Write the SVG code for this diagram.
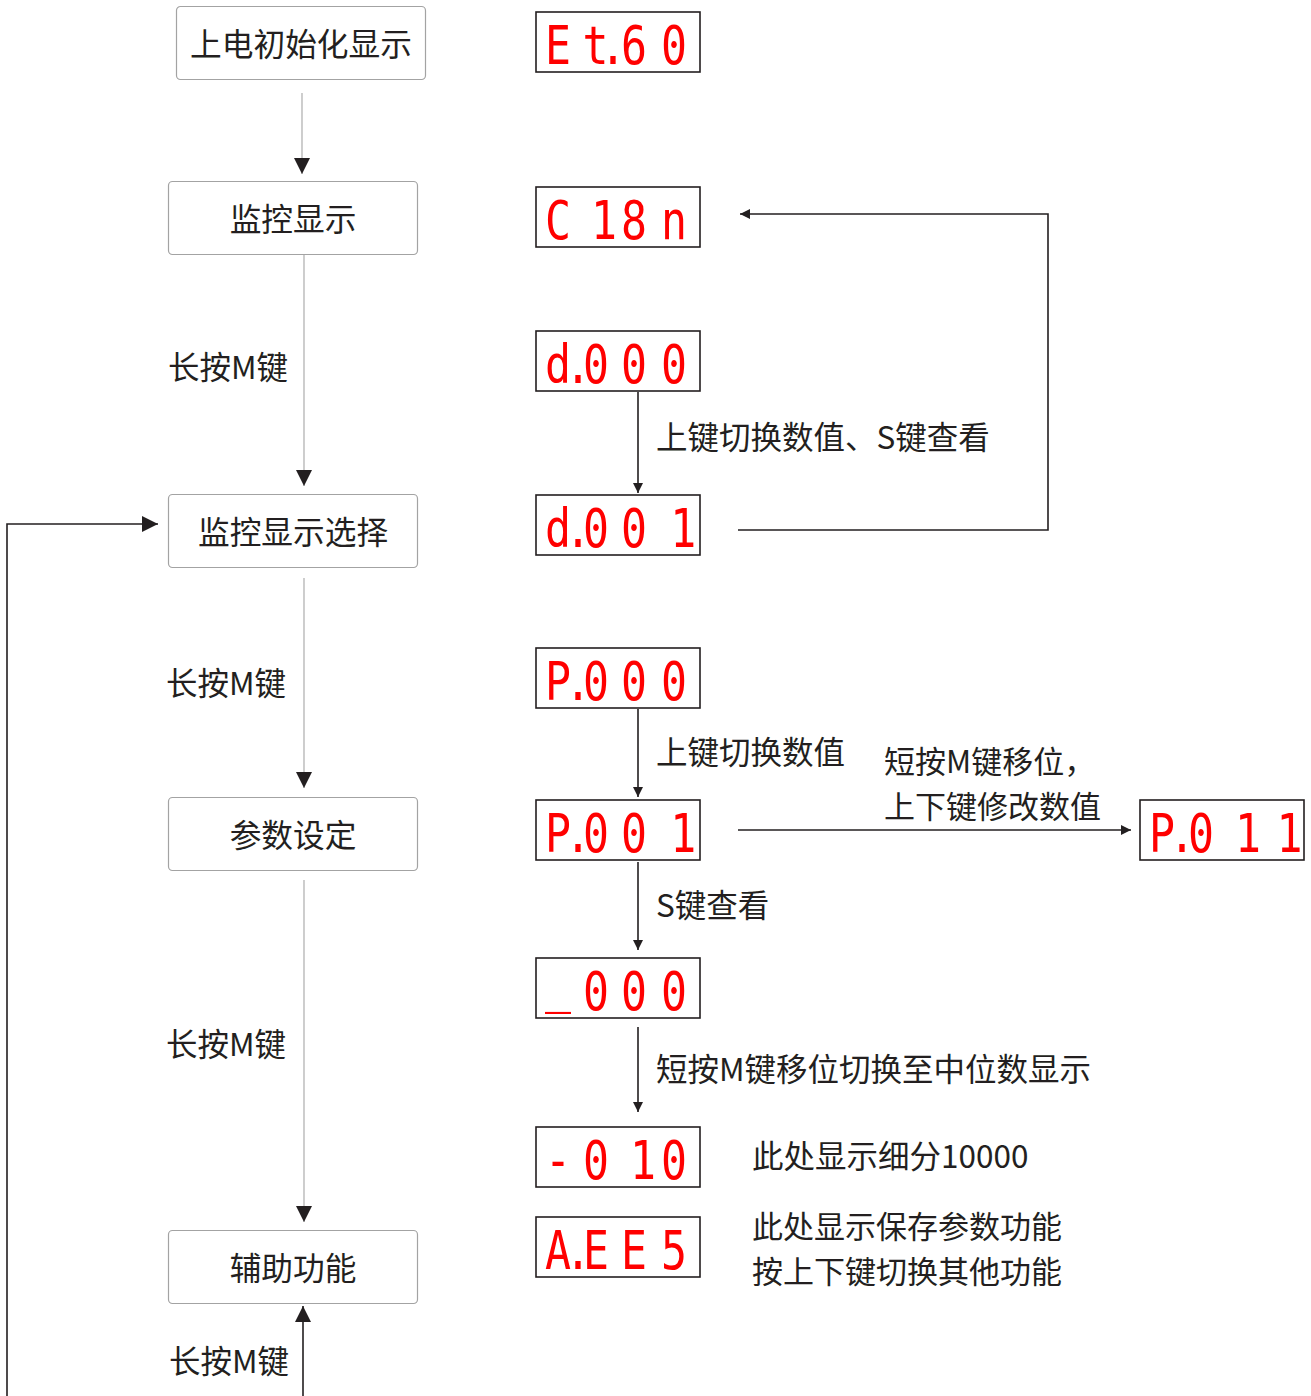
<svg xmlns="http://www.w3.org/2000/svg" width="1311" height="1396" viewBox="0 0 1311 1396">
<style>
.node rect{fill:#fff;stroke:#a3a3a3;stroke-width:1.2}
.lbl{font-family:"Noto Sans CJK SC","Noto Sans",sans-serif;font-size:31.5px;fill:#231f20}
.lbl2{font-family:"Noto Sans CJK SC","Noto Sans",sans-serif;font-size:31px;fill:#231f20}
.ntx{font-family:"Noto Sans CJK SC","Noto Sans",sans-serif;font-size:31.7px;fill:#231f20;text-anchor:middle;dominant-baseline:central}
.disp rect{fill:#fff;stroke:#231f20;stroke-width:1.6}
.seg{font-family:"DejaVu Sans Mono","Liberation Mono",monospace;font-size:54px;fill:#ff0000;text-anchor:middle}
.gl{stroke:#b3b3b3;stroke-width:1.3;fill:none}
.dl{stroke:#231f20;stroke-width:1.6;fill:none}
</style>
<defs>
<marker id="big" markerUnits="userSpaceOnUse" markerWidth="17" markerHeight="17" refX="16" refY="8" orient="auto"><path d="M0,0 L16,8 L0,16 z" fill="#231f20"/></marker>
<marker id="sm" markerUnits="userSpaceOnUse" markerWidth="11" markerHeight="10" refX="10" refY="5" orient="auto"><path d="M0,0 L10,5 L0,10 z" fill="#231f20"/></marker>
</defs>

<g id="connectors">
<line class="gl" x1="302" y1="93" x2="302" y2="174" marker-end="url(#big)"/>
<line class="gl" x1="304" y1="255" x2="304" y2="486" marker-end="url(#big)"/>
<line class="gl" x1="304" y1="578" x2="304" y2="788" marker-end="url(#big)"/>
<line class="gl" x1="304" y1="880" x2="304" y2="1222" marker-end="url(#big)"/>
<line class="dl" x1="303" y1="1396" x2="303" y2="1306" marker-end="url(#big)"/>
<path class="dl" d="M7,1396 V524 H158" marker-end="url(#big)"/>
<path class="dl" d="M638,392 V493" marker-end="url(#sm)"/>
<path class="dl" d="M738,530 H1048 V214 H740" marker-end="url(#sm)"/>
<path class="dl" d="M638,709 V797" marker-end="url(#sm)"/>
<path class="dl" d="M738,830 H1131" marker-end="url(#sm)"/>
<path class="dl" d="M638,862 V950" marker-end="url(#sm)"/>
<path class="dl" d="M638,1027 V1112" marker-end="url(#sm)"/>
</g>

<g id="n-init" class="node"><rect x="176.5" y="6.5" width="249" height="73" rx="4"/><text class="ntx" x="301" y="42">上电初始化显示</text></g>
<g id="n-monitor" class="node"><rect x="168.5" y="181.5" width="249" height="73" rx="4"/><text class="ntx" x="293" y="217">监控显示</text></g>
<g id="n-monsel" class="node"><rect x="168.5" y="494.5" width="249" height="73" rx="4"/><text class="ntx" x="293" y="530">监控显示选择</text></g>
<g id="n-param" class="node"><rect x="168.5" y="797.5" width="249" height="73" rx="4"/><text class="ntx" x="293" y="833">参数设定</text></g>
<g id="n-aux" class="node"><rect x="168.5" y="1230.5" width="249" height="73" rx="4"/><text class="ntx" x="293" y="1266">辅助功能</text></g>

<g id="d-et60" class="disp" transform="translate(536,12)"><rect x="0" y="0" width="164" height="60"/><text class="seg" transform="scale(0.8,1)" x="27.5 74.5 96.25 122.5 172.5" y="52">Et.60</text></g>
<g id="d-c18n" class="disp" transform="translate(536,187)"><rect x="0" y="0" width="164" height="60"/><text class="seg" transform="scale(0.8,1)" x="27.5 85 122.5 172.5" y="52">C18n</text></g>
<g id="d-d000" class="disp" transform="translate(536,331)"><rect x="0" y="0" width="164" height="60"/><text class="seg" transform="scale(0.8,1)" x="27.5 52.5 75 122.5 172.5" y="52">d.000</text></g>
<g id="d-d001" class="disp" transform="translate(536,495)"><rect x="0" y="0" width="164" height="60"/><text class="seg" transform="scale(0.8,1)" x="27.5 52.5 75 122.5 184" y="52">d.001</text></g>
<g id="d-p000" class="disp" transform="translate(536,648)"><rect x="0" y="0" width="164" height="60"/><text class="seg" transform="scale(0.8,1)" x="27.5 52.5 75 122.5 172.5" y="52">P.000</text></g>
<g id="d-p001" class="disp" transform="translate(536,800)"><rect x="0" y="0" width="164" height="60"/><text class="seg" transform="scale(0.8,1)" x="27.5 52.5 75 122.5 184" y="52">P.001</text></g>
<g id="d-p011" class="disp" transform="translate(1140,800)"><rect x="0" y="0" width="164" height="60"/><text class="seg" transform="scale(0.8,1)" x="27.5 52.5 76.25 135 187" y="52">P.011</text></g>
<g id="d-u000" class="disp" transform="translate(536,958)"><rect x="0" y="0" width="164" height="60"/><text class="seg" transform="scale(0.8,1)" x="27.5 75 122.5 172.5" y="52" dy="-9 9">_000</text></g>
<g id="d-m010" class="disp" transform="translate(536,1127)"><rect x="0" y="0" width="164" height="60"/><text class="seg" transform="scale(0.8,1)" x="27.5 75 133.75 172.5" y="52">-010</text></g>
<g id="d-aees" class="disp" transform="translate(536,1217)"><rect x="0" y="0" width="164" height="60"/><text class="seg" transform="scale(0.8,1)" x="27.5 52.5 75 122.5 172.5" y="52">A.EE5</text></g>

<g id="labels">
<text class="lbl" x="168" y="365" dominant-baseline="central">长按M键</text>
<text class="lbl" x="166" y="681" dominant-baseline="central">长按M键</text>
<text class="lbl" x="166" y="1042" dominant-baseline="central">长按M键</text>
<text class="lbl" x="169" y="1359" dominant-baseline="central">长按M键</text>
<text class="lbl" x="656" y="435" dominant-baseline="central">上键切换数值、S键查看</text>
<text class="lbl" x="656" y="750" dominant-baseline="central">上键切换数值</text>
<text class="lbl2" dominant-baseline="central"><tspan x="884" y="759">短按M键移位，</tspan><tspan x="884" y="804">上下键修改数值</tspan></text>
<text class="lbl" x="656" y="903" dominant-baseline="central">S键查看</text>
<text class="lbl" x="656" y="1067" dominant-baseline="central">短按M键移位切换至中位数显示</text>
<text class="lbl" x="752" y="1154" dominant-baseline="central">此处显示细分10000</text>
<text class="lbl2" dominant-baseline="central"><tspan x="752" y="1224">此处显示保存参数功能</tspan><tspan x="752" y="1269">按上下键切换其他功能</tspan></text>
</g>
</svg>
